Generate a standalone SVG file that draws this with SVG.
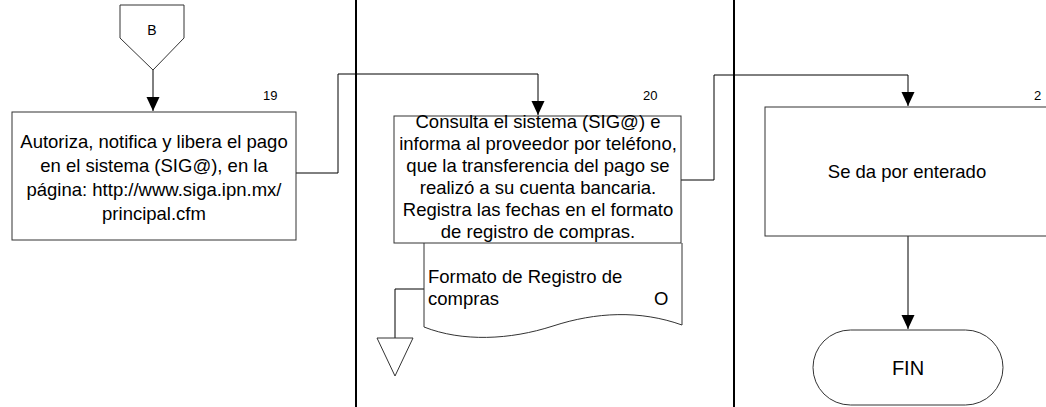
<svg xmlns="http://www.w3.org/2000/svg" width="1046" height="407" viewBox="0 0 1046 407">
<defs>
<marker id="arr" markerUnits="userSpaceOnUse" markerWidth="14" markerHeight="14" refX="14" refY="7" orient="auto">
<path d="M0,0.5 L14,7 L0,13.5 z" fill="#000"/>
</marker>
<style>
.t{font-family:"Liberation Sans",Arial,sans-serif;font-size:18.5px;fill:#000}
.c{text-anchor:middle}
.n{font-family:"Liberation Sans",Arial,sans-serif;font-size:13px;fill:#000}
.box{fill:#fff;stroke:#333;stroke-width:1}
.ln{fill:none;stroke:#000;stroke-width:1}
.lane{stroke:#000;stroke-width:2}
</style>
</defs>
<rect width="1046" height="407" fill="#fff"/>
<g id="lanes">
<line class="lane" x1="356" y1="0" x2="356" y2="407"/>
<line class="lane" x1="734" y1="0" x2="734" y2="407"/>
</g>
<g id="connectors">
<path class="ln" d="M153,70 V111" marker-end="url(#arr)"/>
<path class="ln" d="M296,173 H338 V74 H538 V115" marker-end="url(#arr)"/>
<path class="ln" d="M681,180 H714 V75 H908 V106" marker-end="url(#arr)"/>
<path class="ln" d="M908,236 V329" marker-end="url(#arr)"/>
<path class="ln" d="M424,289 H395 V338"/>
</g>
<g id="nodeB">
<polygon class="box" points="120,5 184,5 184,38 153,70 120,38"/>
<text class="n c" x="152" y="35" style="font-size:14px">B</text>
</g>
<g id="node19">
<rect class="box" x="12" y="112" width="284" height="128"/>
<text class="n" x="263" y="100">19</text>
<text class="t c" x="154" y="148">Autoriza, notifica y libera el pago</text>
<text class="t c" x="154" y="172">en el sistema (SIG@), en la</text>
<text class="t c" x="154" y="196">página: http://www.siga.ipn.mx/</text>
<text class="t c" x="154" y="220">principal.cfm</text>
</g>
<g id="doc">
<path class="box" d="M424,243 L424,327 C462,342 510,340 553,326 C596,312 640,310 682,325 L682,243"/>
<text class="t" x="428" y="283">Formato de Registro de</text>
<text class="t" x="428" y="305">compras</text>
<text class="t" x="654" y="305">O</text>
</g>
<g id="node20">
<rect class="box" x="394" y="116" width="287" height="127"/>
<text class="n" x="643" y="100">20</text>
<text class="t c" x="538" y="128">Consulta el sistema (SIG@) e</text>
<text class="t c" x="538" y="150">informa al proveedor por teléfono,</text>
<text class="t c" x="538" y="172">que la transferencia del pago se</text>
<text class="t c" x="538" y="194">realizó a su cuenta bancaria.</text>
<text class="t c" x="538" y="216">Registra las fechas en el formato</text>
<text class="t c" x="538" y="238">de registro de compras.</text>
</g>
<g id="archive">
<polygon class="box" points="377,338 413,338 395,376"/>
</g>
<g id="node21">
<rect class="box" x="765" y="107" width="300" height="129"/>
<text class="n" x="1034" y="100">2</text>
<text class="t c" x="907" y="178">Se da por enterado</text>
</g>
<g id="fin">
<rect class="box" x="813" y="330" width="190" height="75" rx="37.5" ry="37.5"/>
<text class="t c" x="908" y="375" style="font-size:20px">FIN</text>
</g>
</svg>
